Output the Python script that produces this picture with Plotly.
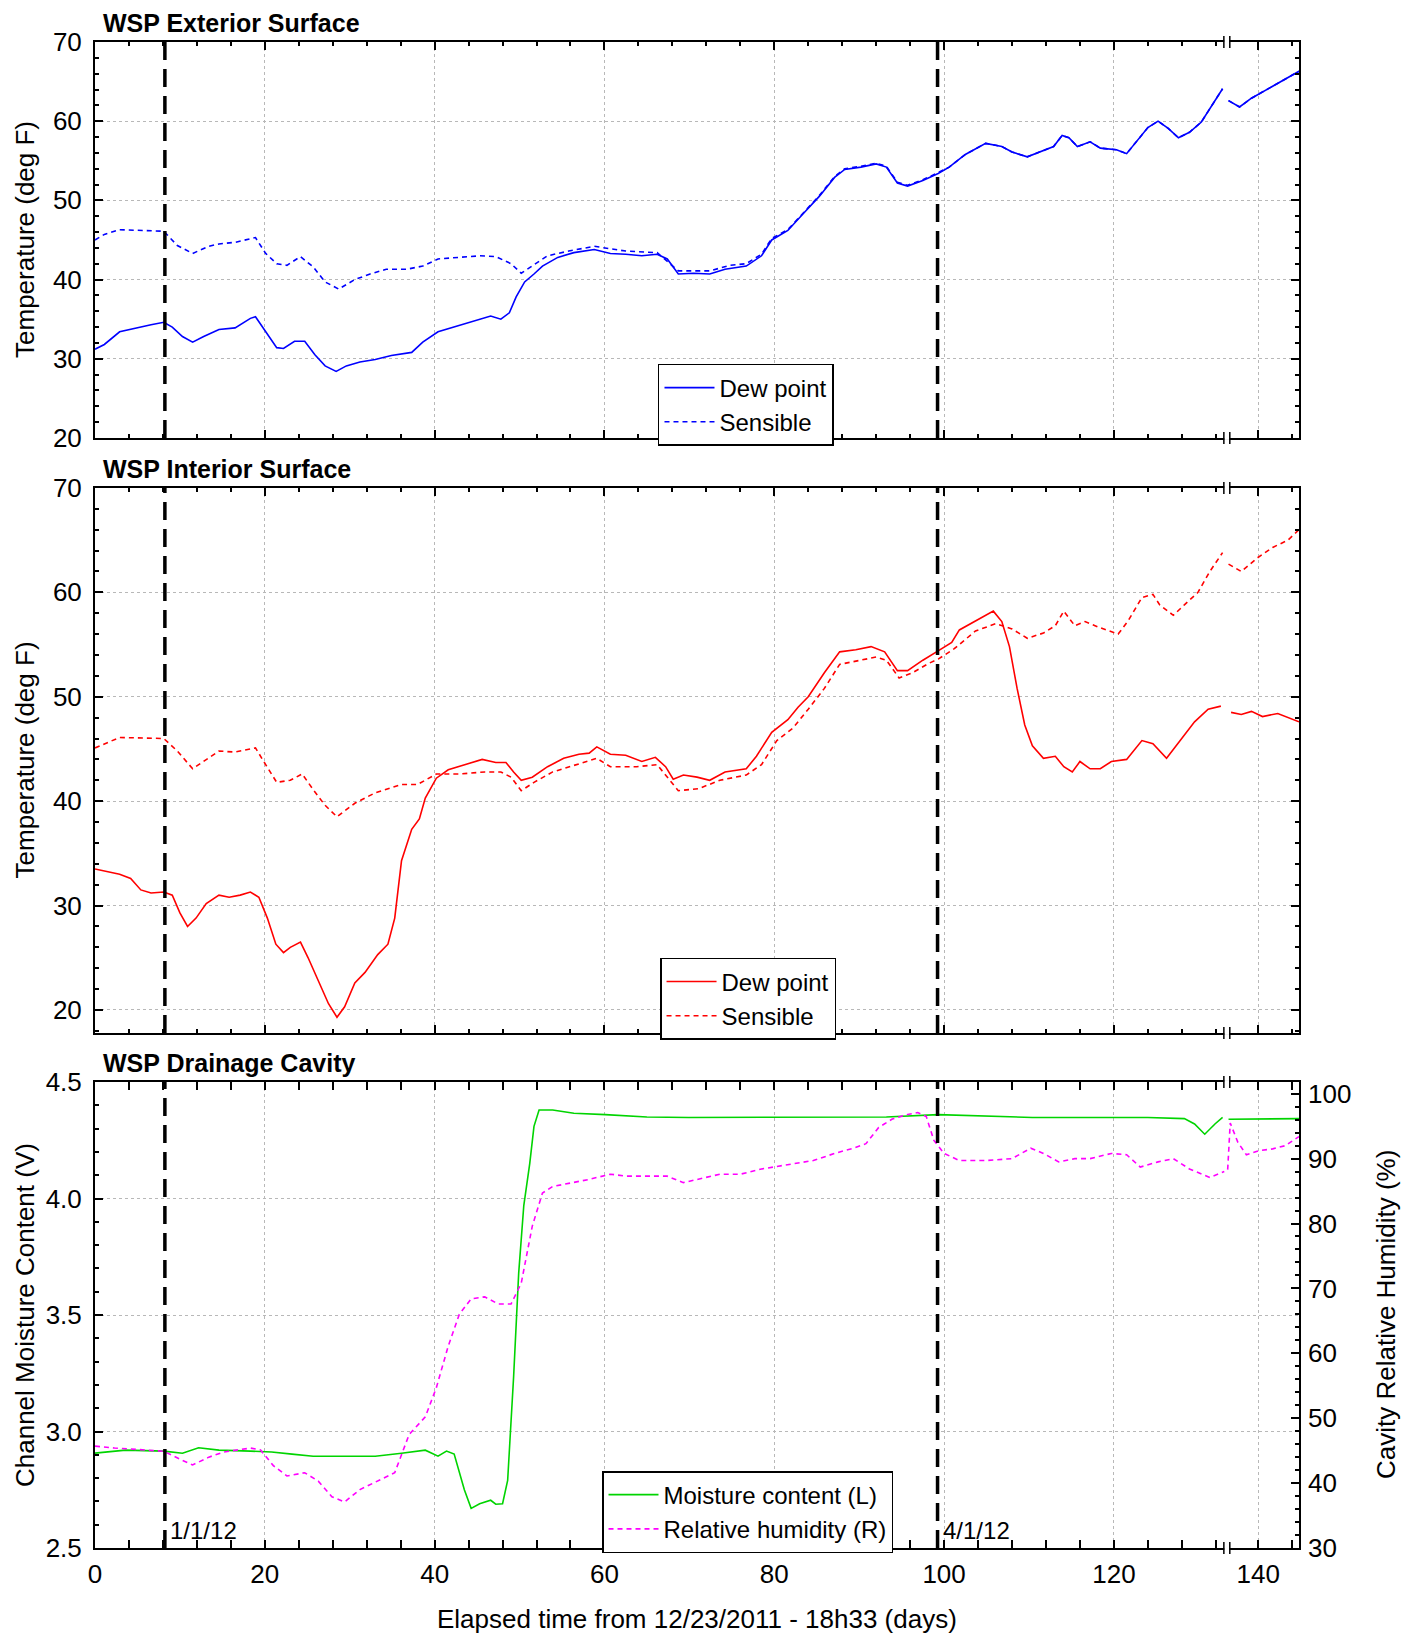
import plotly.graph_objects as go

# ---------------- data (x = elapsed days from 12/23/2011 18h33) ----------------
ext_dew_days = [0, 1.1, 2.9, 4.8, 6.6, 8.1, 9.1, 10.3, 11.5, 12.8, 14.6, 16.5, 18.3, 18.9, 20.1, 21.4,
                22.2, 23.5, 24.7, 25.9, 27.1, 28.4, 29.6, 31.2, 33.0, 34.9, 37.3, 38.6, 40.4, 42.9,
                45.3, 46.6, 47.8, 48.8, 49.6, 50.6, 51.7, 52.7, 54.5, 56.4, 58.8, 60.7, 62.5, 64.4,
                66.2, 67.4, 68.7, 70.5, 72.4, 74.2, 76.7, 78.5, 79.7, 81.6, 83.4, 85.3, 87.1, 88.3,
                90.2, 92.0, 93.2, 94.5, 95.7, 97.5, 99.3, 100.6, 102.5, 104.9, 106.8, 108.0, 109.8,
                111.7, 112.9, 113.9, 114.7, 115.7, 117.2, 118.4, 120.3, 121.5, 122.7, 124.0, 125.2,
                126.4, 127.6, 128.9, 130.3, 131.6, 132.8, 136.5, 137.8, 139.2, 140.5, 142.3, 144.8]
ext_dew_temp = [31.2, 31.8, 33.4, 33.9, 34.3, 34.6, 34.0, 32.8, 32.1, 32.8, 33.7, 33.9, 35.1, 35.3, 33.4, 31.4,
                31.3, 32.2, 32.2, 30.5, 29.1, 28.4, 29.1, 29.6, 29.9, 30.4, 30.8, 32.1, 33.4, 34.2,
                35.0, 35.4, 35.0, 35.8, 37.8, 39.7, 40.7, 41.7, 42.8, 43.4, 43.8, 43.3, 43.2, 43.0,
                43.2, 42.6, 40.7, 40.8, 40.7, 41.3, 41.7, 43.0, 45.0, 46.2, 48.3, 50.5, 52.9, 53.9,
                54.2, 54.6, 54.2, 52.2, 51.8, 52.5, 53.4, 54.2, 55.8, 57.2, 56.8, 56.1, 55.5,
                56.3, 56.8, 58.2, 57.9, 56.8, 57.4, 56.6, 56.4, 55.9, 57.5, 59.2, 60.0,
                59.1, 57.9, 58.6, 59.9, 62.1, 64.1, 62.6, 61.8, 62.9, 63.7, 64.7, 66.3]

ext_sen_days = [0, 1.1, 2.9, 4.8, 7.2, 8.1, 9.7, 11.5, 13.4, 14.6, 16.5, 18.3, 18.9, 20.1, 21.4, 22.6,
                24.2, 25.7, 27.1, 28.7, 30.6, 32.4, 34.3, 36.7, 38.6, 40.4, 42.9, 45.3, 47.2, 49.0,
                50.2, 51.5, 53.3, 55.8, 58.8, 62.5, 66.2, 68.7, 72.4, 74.8, 76.7, 78.5, 79.7, 81.6,
                83.4, 85.3, 87.1, 88.3, 90.2, 92.0, 93.2, 94.5, 95.7, 97.5, 99.3, 100.6, 102.5, 104.9,
                106.8, 108.0, 109.8, 111.7, 112.9, 113.9, 114.7, 115.7, 117.2, 118.4, 120.3, 121.5,
                122.7, 124.0, 125.2, 126.4, 127.6, 128.9, 130.3, 131.6, 132.8, 136.5, 137.8, 139.2,
                140.5, 142.3, 144.8]
ext_sen_temp = [45.0, 45.7, 46.3, 46.2, 46.1, 46.1, 44.3, 43.3, 44.2, 44.5, 44.7, 45.1, 45.3, 43.3, 42.0, 41.8,
                42.9, 41.6, 39.7, 38.8, 40.0, 40.7, 41.3, 41.3, 41.7, 42.6, 42.8, 43.0, 42.9, 42.0,
                40.8, 41.7, 43.0, 43.6, 44.2, 43.6, 43.4, 41.1, 41.1, 41.8, 42.0, 43.2, 45.2, 46.3,
                48.4, 50.6, 53.0, 54.0, 54.3, 54.7, 54.3, 52.3, 51.9, 52.6, 53.5, 54.2, 55.8, 57.2,
                56.8, 56.1, 55.5, 56.3, 56.8, 58.2, 57.9, 56.8, 57.4, 56.6, 56.4, 55.9,
                57.5, 59.2, 60.0, 59.1, 57.9, 58.6, 59.9, 62.1, 64.1, 62.6, 61.8, 62.9,
                63.7, 64.7, 66.3]

int_dew_days = [0, 1.1, 2.9, 4.2, 5.4, 6.6, 8.1, 9.1, 10.0, 10.9, 11.9, 13.1, 14.6, 15.8, 17.1, 18.3,
                19.3, 20.3, 21.3, 22.2, 23.0, 24.2, 25.1, 26.3, 27.5, 28.5, 29.4, 30.6, 31.8, 33.3,
                34.5, 35.3, 36.1, 37.3, 38.2, 38.9, 40.2, 41.6, 43.5, 45.6, 47.2, 48.4, 49.3, 50.2,
                51.5, 53.3, 55.2, 57.0, 58.2, 59.1, 60.7, 62.5, 64.4, 66.0, 67.2, 68.1, 69.3, 70.9,
                72.4, 74.2, 76.7, 77.9, 79.7, 81.6, 82.8, 84.0, 85.9, 87.7, 89.6, 91.4, 93.0, 94.5,
                95.7, 97.5, 99.3, 100.9, 101.8, 103.1, 104.9, 105.8, 106.8, 107.7, 108.6, 109.5,
                110.4, 111.7, 113.1, 114.1, 115.1, 116.0, 117.2, 118.4, 119.7, 121.5, 123.3, 124.6,
                126.2, 127.6, 129.5, 131.1, 132.6, 136.8, 138.0, 139.2, 140.5, 142.3, 144.8]
int_dew_temp = [33.5, 33.3, 33.0, 32.6, 31.5, 31.2, 31.3, 31.0, 29.3, 28.0, 28.8, 30.2, 31.0, 30.8, 31.0, 31.3,
                30.8, 28.8, 26.3, 25.5, 26.0, 26.5, 25.0, 22.8, 20.6, 19.3, 20.3, 22.6, 23.6, 25.3,
                26.3, 28.8, 34.3, 37.3, 38.3, 40.3, 42.2, 43.0, 43.5, 44.0, 43.7, 43.7, 42.8, 42.0,
                42.3, 43.3, 44.1, 44.5, 44.6, 45.2, 44.5, 44.4, 43.8, 44.2, 43.3, 42.1, 42.5, 42.3,
                42.0, 42.8, 43.1, 44.3, 46.6, 47.8, 49.0, 50.0, 52.3, 54.3, 54.5, 54.8, 54.3, 52.5,
                52.5, 53.5, 54.4, 55.2, 56.4, 57.0, 57.8, 58.2, 57.2, 54.8, 50.8, 47.3,
                45.3, 44.1, 44.3, 43.3, 42.8, 43.8, 43.1, 43.1, 43.8, 44.0, 45.8, 45.5,
                44.1, 45.6, 47.6, 48.8, 49.1, 48.5, 48.3, 48.6, 48.1, 48.4, 47.6]

int_sen_days = [0, 2.9, 8.1, 9.7, 11.5, 14.6, 16.5, 18.9, 20.1, 21.4, 23.0, 24.4, 25.7, 27.1, 28.5, 30.6,
                33.0, 36.1, 38.0, 40.2, 42.9, 45.9, 47.8, 49.0, 50.2, 51.7, 53.9, 57.0, 59.1, 60.7,
                63.8, 66.2, 67.4, 68.7, 71.1, 73.6, 76.7, 78.5, 80.3, 82.2, 84.0, 85.9, 87.7, 89.6,
                92.0, 93.2, 94.7, 96.3, 98.2, 99.3, 101.2, 103.7, 106.1, 108.0, 109.8, 111.7, 113.1,
                114.1, 115.4, 116.6, 118.4, 120.5, 121.7, 123.3, 124.6, 125.4, 127.0, 128.3, 129.9,
                131.3, 132.8, 136.5, 138.0, 139.9, 141.7, 143.5, 144.8]
int_sen_temp = [45.1, 46.1, 46.0, 44.8, 43.1, 44.8, 44.7, 45.1, 43.5, 41.8, 42.0, 42.6, 41.1, 39.6, 38.5, 39.8,
                40.8, 41.6, 41.6, 42.6, 42.6, 42.8, 42.8, 42.3, 41.0, 41.8, 42.8, 43.6, 44.1, 43.3,
                43.3, 43.5, 42.3, 41.0, 41.2, 42.0, 42.5, 43.5, 45.8, 47.0, 48.8, 50.8, 53.1, 53.4,
                53.8, 53.5, 51.8, 52.3, 53.2, 53.6, 54.6, 56.3, 57.0, 56.5, 55.6, 56.1, 56.8,
                58.2, 56.8, 57.2, 56.6, 56.0, 57.3, 59.5, 59.8, 58.8, 57.8, 58.8, 60.0,
                62.0, 63.8, 62.7, 62.0, 63.3, 64.3, 65.0, 66.0]

mc_days = [0, 3.6, 8.1, 10.3, 12.2, 14.6, 18.3, 20.8, 23.2, 25.7, 29.4, 33.0, 36.1, 38.9, 40.4, 41.4,
           42.3, 43.5, 44.3, 45.3, 46.6, 47.2, 48.0, 48.6, 49.3, 49.9, 50.5, 51.2, 51.7, 52.3, 53.9,
           56.4, 60.1, 65.0, 69.9, 74.8, 81.0, 87.1, 93.2, 99.3, 104.3, 110.4, 117.8, 124.0, 128.3,
           129.5, 130.7, 131.9, 132.8, 136.5, 138.0, 139.2, 144.8]
mc_volts = [2.907, 2.92, 2.916, 2.907, 2.93, 2.92, 2.916, 2.912, 2.903, 2.894, 2.894, 2.894, 2.907, 2.92, 2.894, 2.916,
            2.903, 2.75, 2.67, 2.69, 2.705, 2.688, 2.69, 2.79, 3.234, 3.68, 3.97, 4.15, 4.31, 4.38, 4.38,
            4.366, 4.36, 4.35, 4.348, 4.348, 4.348, 4.348, 4.35, 4.36, 4.355, 4.348, 4.348, 4.348, 4.343,
            4.32, 4.276, 4.32, 4.348, 4.34, 4.34, 4.343, 4.343]

rh_days = [0, 2.3, 6.0, 8.1, 10.3, 11.5, 13.4, 15.2, 18.3, 19.5, 21.0, 22.6, 24.7, 26.3, 27.9, 29.4,
           31.2, 33.3, 35.3, 37.0, 38.9, 40.2, 41.6, 42.9, 44.3, 45.9, 47.5, 49.0, 50.2, 51.5, 52.7,
           53.9, 56.4, 58.2, 60.7, 62.5, 65.0, 67.4, 69.3, 71.1, 73.6, 76.0, 78.5, 82.2, 84.6, 87.1,
           89.3, 90.8, 92.3, 93.9, 95.7, 96.9, 97.9, 98.8, 100.0, 101.8, 104.9, 108.0, 110.2, 111.7,
           113.5, 115.4, 117.2, 119.7, 121.5, 123.1, 125.2, 127.0, 128.9, 131.3, 133.0, 136.4, 136.7,
           137.6, 138.6, 140.0, 141.7, 143.2, 144.8]
rh_pct = [45.7, 45.4, 45.1, 44.9, 43.5, 42.8, 44.0, 44.8, 45.4, 45.1, 42.7, 41.1, 41.6, 40.3, 37.9, 37.1,
          39.0, 40.3, 41.6, 47.5, 50.2, 54.7, 61.1, 66.0, 68.4, 68.7, 67.6, 67.6, 70.8, 79.6, 84.7,
          85.7, 86.3, 86.8, 87.6, 87.3, 87.3, 87.3, 86.3, 86.8, 87.6, 87.6, 88.4, 89.2, 89.7, 90.8,
          91.6, 92.3, 94.8, 96.1, 96.8, 97.1, 96.5, 92.8, 90.8, 89.7, 89.7, 90.0, 91.6, 90.8,
          89.5, 90.0, 90.0, 90.8, 90.6, 88.7, 89.5, 90.0, 88.4, 87.1, 88.0, 88.3, 95.5,
          92.5, 90.6, 91.2, 91.5, 92.0, 93.4]

x_tick_days = [0, 20, 40, 60, 80, 100, 120, 140]
x_tick_text = ["0", "20", "40", "60", "80", "100", "120", "140"]
BREAK_START = 133.3   # axis break (days)
BREAK_GAP = 3.0       # days omitted by the break
X_END_DAY = 144.8
JAN1_DAY = 8.23
APR1_DAY = 99.23

FONT = "Liberation Sans, Arial, sans-serif"


def to_axis(d):
    return d if d < BREAK_START else d - BREAK_GAP


def series(days, vals):
    xs, ys = [], []
    prev = None
    for d, v in zip(days, vals):
        if prev is not None and prev < BREAK_START <= d:
            xs.append(None)
            ys.append(None)
        xs.append(to_axis(d))
        ys.append(v)
        prev = d
    return xs, ys


fig = go.Figure()

BLUE, RED, GREEN, MAG = "#0000ff", "#ff0000", "#00d400", "#ff00ff"
SMALLDASH = "5px,4px"

x, y = series(ext_dew_days, ext_dew_temp)
fig.add_trace(go.Scatter(x=x, y=y, mode="lines", name="Dew point", line=dict(color=BLUE, width=1.6),
                         xaxis="x", yaxis="y", legend="legend"))
x, y = series(ext_sen_days, ext_sen_temp)
fig.add_trace(go.Scatter(x=x, y=y, mode="lines", name="Sensible", line=dict(color=BLUE, width=1.6, dash=SMALLDASH),
                         xaxis="x", yaxis="y", legend="legend"))
x, y = series(int_dew_days, int_dew_temp)
fig.add_trace(go.Scatter(x=x, y=y, mode="lines", name="Dew point", line=dict(color=RED, width=1.6),
                         xaxis="x2", yaxis="y2", legend="legend2"))
x, y = series(int_sen_days, int_sen_temp)
fig.add_trace(go.Scatter(x=x, y=y, mode="lines", name="Sensible", line=dict(color=RED, width=1.6, dash=SMALLDASH),
                         xaxis="x2", yaxis="y2", legend="legend2"))
x, y = series(mc_days, mc_volts)
fig.add_trace(go.Scatter(x=x, y=y, mode="lines", name="Moisture content (L)", line=dict(color=GREEN, width=1.6),
                         xaxis="x3", yaxis="y3", legend="legend3"))
x, y = series(rh_days, rh_pct)
fig.add_trace(go.Scatter(x=x, y=y, mode="lines", name="Relative humidity (R)",
                         line=dict(color=MAG, width=1.6, dash=SMALLDASH),
                         xaxis="x3", yaxis="y4", legend="legend3"))

tickvals = [to_axis(d) for d in x_tick_days]
minor_vals = [to_axis(d) for d in range(4, 148, 4)
              if d % 20 != 0 and not (BREAK_START <= d < BREAK_START + BREAK_GAP) and d <= X_END_DAY]
x_range = [0, to_axis(X_END_DAY)]

dom_top = [0.7371, 1.0]
dom_mid = [0.3420, 0.7039]
dom_bot = [0.0, 0.3094]

common_axis = dict(showline=True, linecolor="black", linewidth=2, ticks="inside", ticklen=8,
                   tickwidth=1.5, tickcolor="black", showgrid=True, gridcolor="#b8b8b8",
                   griddash="dot", gridwidth=1, zeroline=False,
                   tickfont=dict(family=FONT, size=26, color="black"))


def xax(anchor, labels):
    return dict(common_axis, domain=[0, 1], anchor=anchor, range=x_range, tickmode="array",
                tickvals=tickvals, ticktext=x_tick_text, showticklabels=labels, mirror="allticks",
                ticklabelstandoff=2,
                minor=dict(tickmode="array", tickvals=minor_vals, ticks="inside", ticklen=4,
                           tickcolor="black", tickwidth=1.5, showgrid=False))


legend_common = dict(xanchor="left", yanchor="top", bgcolor="white", bordercolor="black",
                     borderwidth=1.5, font=dict(size=24), itemwidth=50, tracegroupgap=0)

fig.update_layout(
    width=1409, height=1628,
    margin=dict(l=87, r=118, t=34, b=88),
    paper_bgcolor="white", plot_bgcolor="white",
    font=dict(family=FONT, size=24, color="black"),
    xaxis=xax("y", False),
    xaxis2=xax("y2", False),
    xaxis3=xax("y3", True),
    yaxis=dict(common_axis, domain=dom_top, anchor="x", range=[20, 70], dtick=10, mirror="allticks",
               ticklabelstandoff=6,
               minor=dict(dtick=2, ticks="inside", ticklen=4, tickcolor="black", showgrid=False)),
    yaxis2=dict(common_axis, domain=dom_mid, anchor="x2", range=[17.8, 70], tick0=0, dtick=10,
                mirror="allticks", ticklabelstandoff=6,
                minor=dict(dtick=2, ticks="inside", ticklen=4, tickcolor="black", showgrid=False)),
    yaxis3=dict(common_axis, domain=dom_bot, anchor="x3", range=[2.5, 4.5], dtick=0.5, tickformat=".1f",
                mirror=True, ticklabelstandoff=6,
                minor=dict(dtick=0.1, ticks="inside", ticklen=4, tickcolor="black", showgrid=False)),
    yaxis4=dict(common_axis, overlaying="y3", side="right", anchor="x3", range=[30, 101.8], tick0=0,
                dtick=10, showgrid=False, showline=False, ticklabelstandoff=8,
                minor=dict(dtick=2, ticks="inside", ticklen=4, tickcolor="black", showgrid=False)),
    legend=dict(legend_common, x=0.4676, y=0.7862),
    legend2=dict(legend_common, x=0.4693, y=0.3918),
    legend3=dict(legend_common, x=0.4211, y=0.0511),
    showlegend=True,
)

shapes = []
for xr, yr in [("x", "y"), ("x2", "y2"), ("x3", "y3")]:
    for d in (JAN1_DAY, APR1_DAY):
        shapes.append(dict(type="line", xref=xr, yref=yr + " domain", x0=to_axis(d), x1=to_axis(d),
                           y0=0, y1=1, line=dict(color="black", width=3.5, dash="18px,9px"), layer="above"))
    # axis break marks on bottom and top frame lines
    for anchor in (0, 1):
        shapes.append(dict(type="rect", xref=xr, yref=yr + " domain", x0=BREAK_START - 0.3,
                           x1=BREAK_START + 0.3, ysizemode="pixel", yanchor=anchor, y0=-2, y1=2,
                           fillcolor="white", line=dict(width=0), layer="above"))
        for off in (-0.35, 0.35):
            shapes.append(dict(type="line", xref=xr, yref=yr + " domain", x0=BREAK_START + off,
                               x1=BREAK_START + off, ysizemode="pixel", yanchor=anchor, y0=-6, y1=6,
                               line=dict(color="black", width=1.5), layer="above"))
fig.update_layout(shapes=shapes)

ann = []
for title, dom in [("WSP Exterior Surface", dom_top), ("WSP Interior Surface", dom_mid),
                   ("WSP Drainage Cavity", dom_bot)]:
    ann.append(dict(text="<b>%s</b>" % title, xref="paper", yref="paper", x=0, y=dom[1],
                    xanchor="left", yanchor="middle", xshift=6, yshift=19, showarrow=False,
                    font=dict(family=FONT, size=25, color="black")))
for title, dom, xs in [("Temperature (deg F)", dom_top, -70), ("Temperature (deg F)", dom_mid, -70),
                       ("Channel Moisture Content (V)", dom_bot, -70)]:
    ann.append(dict(text=title, xref="paper", yref="paper", x=0, y=(dom[0] + dom[1]) / 2,
                    xanchor="center", yanchor="middle", xshift=xs, textangle=-90, showarrow=False,
                    font=dict(family=FONT, size=26, color="black")))
ann.append(dict(text="Cavity Relative Humidity (%)", xref="paper", yref="paper", x=1,
                y=(dom_bot[0] + dom_bot[1]) / 2, xanchor="center", yanchor="middle", xshift=87,
                textangle=-90, showarrow=False, font=dict(family=FONT, size=26, color="black")))
ann.append(dict(text="Elapsed time from 12/23/2011 - 18h33 (days)", xref="paper", yref="paper",
                x=0.5, y=0, xanchor="center", yanchor="middle", yshift=-71, showarrow=False,
                font=dict(family=FONT, size=26, color="black")))
for d, lab in [(JAN1_DAY, "1/1/12"), (APR1_DAY, "4/1/12")]:
    ann.append(dict(text=lab, xref="x3", yref="y3 domain", x=to_axis(d), y=0, xanchor="left",
                    yanchor="bottom", xshift=3, yshift=2, showarrow=False,
                    font=dict(family=FONT, size=24, color="black")))
fig.update_layout(annotations=ann)

fig.write_html("out.html")
